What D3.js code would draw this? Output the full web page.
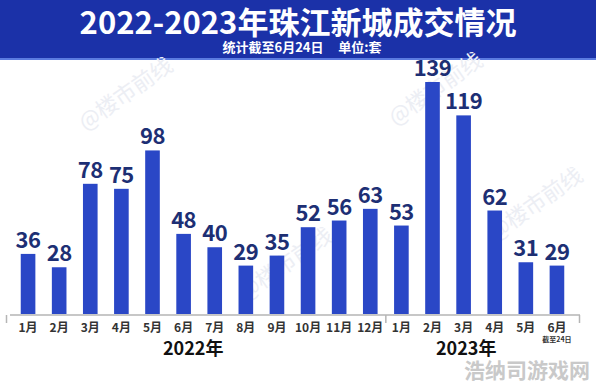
<!DOCTYPE html>
<html>
<head>
<meta charset="utf-8">
<script src="https://cdn.jsdelivr.net/npm/d3@7"></script>
<style>
  body { margin: 0; background: #fff; }
  svg { display: block; font-family: "Noto Sans CJK SC", "Noto Sans", sans-serif; }
</style>
</head>
<body>
<div class="chart"></div>
<script>
// data
var months = ['1月','2月','3月','4月','5月','6月','7月','8月','9月','10月','11月','12月',
              '1月','2月','3月','4月','5月','6月'];
var years = ['2022','2022','2022','2022','2022','2022','2022','2022','2022','2022','2022','2022',
             '2023','2023','2023','2023','2023','2023'];
var deals = [36, 28, 78, 75, 98, 48, 40, 29, 35, 52, 56, 63,
             53, 139, 119, 62, 31, 29];
var yearLabels = ['2022年', '2023年'];

var W = 596, H = 386;
var baseY = 314;

var svg = d3.select('.chart')
  .append('svg')
  .attr('width', W)
  .attr('height', H);

// header band
svg.append('rect')
  .attr('x', 0).attr('y', 0)
  .attr('width', W).attr('height', 59)
  .style('fill', '#1b31a8');
svg.append('rect')
  .attr('x', 0).attr('y', 58)
  .attr('width', W).attr('height', 2)
  .style('fill', '#5b7be0');

svg.append('text')
  .attr('x', 298).attr('y', 34)
  .style('text-anchor', 'middle')
  .style('font-size', '31px')
  .style('font-weight', 'bold')
  .style('fill', '#fff')
  .text('2022-2023年珠江新城成交情况');

svg.append('text')
  .attr('x', 302).attr('y', 52)
  .style('text-anchor', 'middle')
  .style('font-size', '13px')
  .style('font-weight', 'bold')
  .style('fill', '#fff')
  .attr('xml:space', 'preserve')
  .text('统计截至6月24日     单位:套');

// faint watermarks
var marks = [[130, 100], [290, 270], [440, 95], [540, 210]];
svg.selectAll('.wm')
  .data(marks)
  .enter()
  .append('text')
  .attr('class', 'wm')
  .attr('transform', d => 'translate(' + d[0] + ',' + d[1] + ') rotate(-35)')
  .style('text-anchor', 'middle')
  .style('font-size', '22px')
  .style('fill', '#eceef4')
  .text('@楼市前线');

var xScale = d3.scaleBand()
  .domain(d3.range(deals.length))
  .range([12.5, 572.5])
  .paddingInner(0.53)
  .paddingOuter(0.265);

var yScale = d3.scaleLinear()
  .domain([0, 139])
  .range([baseY, 82]);

// bars
svg.selectAll('.bar')
  .data(deals)
  .enter()
  .append('rect')
  .attr('class', 'bar')
  .attr('x', (d, i) => xScale(i))
  .attr('y', d => yScale(d))
  .attr('width', xScale.bandwidth())
  .attr('height', d => baseY - yScale(d))
  .style('fill', '#2a47c6');

// value labels
svg.selectAll('.val')
  .data(deals)
  .enter()
  .append('text')
  .attr('class', 'val')
  .attr('x', (d, i) => xScale(i) + xScale.bandwidth() / 2)
  .attr('y', d => yScale(d) - 6)
  .style('text-anchor', 'middle')
  .style('font-size', '22px')
  .style('font-weight', 'bold')
  .style('letter-spacing', '-0.5px')
  .style('fill', '#1d2f74')
  .text(d => d);

// axis
var axisY = 315;
svg.append('line')
  .attr('x1', 10).attr('x2', 580)
  .attr('y1', axisY).attr('y2', axisY)
  .style('stroke', '#b5b5b5')
  .style('stroke-width', 1.5);

var gap = xScale.step() - xScale.bandwidth();
var sep = [xScale(0) - gap / 2 - 6,
           xScale(12) - gap / 2,
           xScale(17) + xScale.bandwidth() + gap / 2 + 7];
svg.selectAll('.tick')
  .data(sep)
  .enter()
  .append('line')
  .attr('class', 'tick')
  .attr('x1', d => d).attr('x2', d => d)
  .attr('y1', axisY).attr('y2', axisY + 8)
  .style('stroke', '#b5b5b5')
  .style('stroke-width', 1.5);

svg.selectAll('.mon')
  .data(months)
  .enter()
  .append('text')
  .attr('class', 'mon')
  .attr('x', (d, i) => xScale(i) + xScale.bandwidth() / 2)
  .attr('y', 332)
  .style('text-anchor', 'middle')
  .style('font-size', '12px')
  .style('font-weight', 'bold')
  .style('fill', '#333')
  .text(d => d);

svg.append('text')
  .attr('x', xScale(17) + xScale.bandwidth() / 2)
  .attr('y', 342)
  .style('text-anchor', 'middle')
  .style('font-size', '7px')
  .style('font-weight', 'bold')
  .style('fill', '#333')
  .text('截至24日');

// year labels
yearLabels.forEach(function (t, k) {
  var idx = d3.range(years.length).filter(i => years[i] === t.slice(0, 4));
  var cx = (xScale(idx[0]) + xScale(idx[idx.length - 1]) + xScale.bandwidth()) / 2;
  svg.append('text')
    .attr('x', cx - (k === 0 ? 6 : 13))
    .attr('y', 355)
    .style('text-anchor', 'middle')
    .style('font-size', '18px')
    .style('font-weight', 'bold')
    .style('fill', '#111')
    .text(t);
});

// bottom-right site watermark
svg.append('text')
  .attr('x', 590).attr('y', 378)
  .style('text-anchor', 'end')
  .style('font-size', '21px')
  .style('font-weight', 'bold')
  .style('fill', '#c9c9c9')
  .text('浩纳司游戏网');
</script>
</body>
</html>
